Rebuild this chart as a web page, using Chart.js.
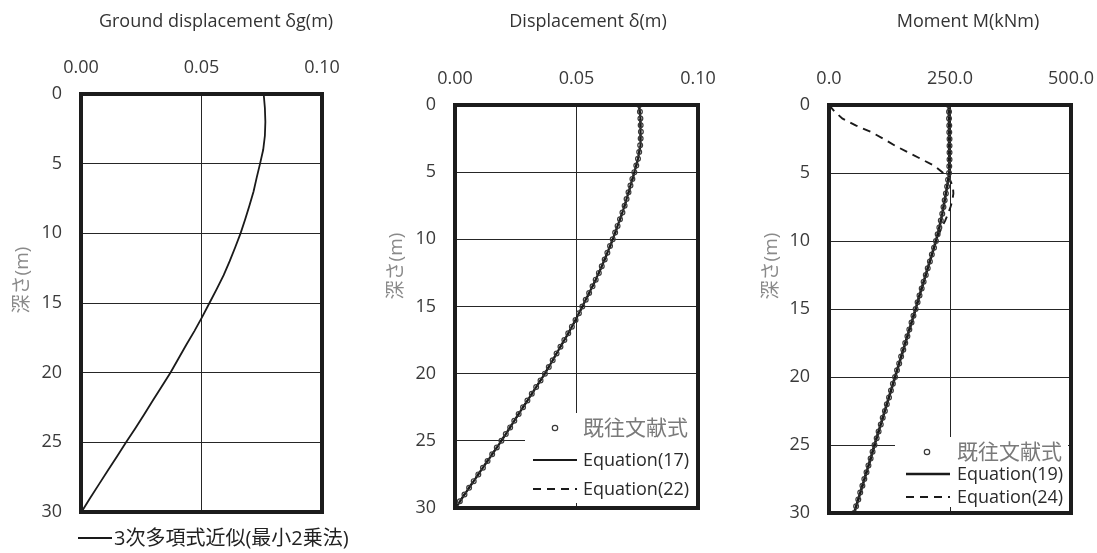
<!DOCTYPE html>
<html>
<head>
<meta charset="utf-8">
<script src="https://cdn.jsdelivr.net/npm/chart.js@4.4.0/dist/chart.umd.min.js"></script>
<style>
  html, body { margin: 0; padding: 0; background: #fff; }
  #wrap { position: relative; width: 1097px; height: 553px; overflow: hidden; }
  canvas { position: absolute; top: 0; }
</style>
</head>
<body>
<div id="wrap">
  <canvas id="c1" width="370" height="553" style="left:0px"></canvas>
  <canvas id="c2" width="360" height="553" style="left:370px"></canvas>
  <canvas id="c3" width="367" height="553" style="left:730px"></canvas>
</div>
<script>
// depth (m) at 1 m and at 0.5 m steps
const depthM = [0,1,2,3,4,5,6,7,8,9,10,11,12,13,14,15,16,17,18,19,20,21,22,23,24,25,26,27,28,29,30];
const depthFine = [0,0.5,1,1.5,2,2.5,3,3.5,4,4.5,5,5.5,6,6.5,7,7.5,8,8.5,9,9.5,10,10.5,11,11.5,12,12.5,13,13.5,14,14.5,
  15,15.5,16,16.5,17,17.5,18,18.5,19,19.5,20,20.5,21,21.5,22,22.5,23,23.5,24,24.5,25,25.5,26,26.5,27,27.5,28,28.5,29,29.5,30];

// panel 1 : ground displacement, 3rd order polynomial fit
const groundDisp = [0.0758,0.0763,0.0765,0.0763,0.0756,0.0743,0.0729,0.0716,0.0699,0.0681,0.0662,0.0640,0.0617,0.0592,0.0563,
  0.0533,0.0503,0.0471,0.0437,0.0404,0.0371,0.0335,0.0298,0.0262,0.0225,0.0187,0.0150,0.0112,0.0075,0.0038,0.0002];

// panel 2 : pile displacement
const dispRef = [0.0758,0.0761,0.0763,0.0764,0.0765,0.0764,0.0762,0.0758,0.0753,0.0746,
  0.0738,0.0730,0.0722,0.0714,0.0706,0.0698,0.0689,0.0679,0.0669,0.0659,
  0.0649,0.0638,0.0627,0.0616,0.0604,0.0592,0.0579,0.0566,0.0552,0.0538,
  0.0524,0.0510,0.0496,0.0481,0.0466,0.0450,0.0434,0.0418,0.0402,0.0386,
  0.0370,0.0352,0.0334,0.0316,0.0298,0.0280,0.0262,0.0244,0.0227,0.0209,
  0.0191,0.0172,0.0153,0.0134,0.0115,0.0096,0.0077,0.0058,0.0039,0.0020,0.0003];
const dispEq17 = [0.0758,0.0763,0.0765,0.0762,0.0753,0.0738,0.0722,0.0706,0.0689,0.0669,0.0649,0.0627,0.0604,0.0579,0.0552,
  0.0524,0.0496,0.0466,0.0434,0.0402,0.0370,0.0334,0.0298,0.0262,0.0227,0.0191,0.0153,0.0115,0.0077,0.0039,0.0003];
const dispEq22 = [0.0757,0.0762,0.0764,0.0762,0.0754,0.0739,0.0723,0.0707,0.0690,0.0670,0.0650,0.0628,0.0605,0.0580,0.0553,
  0.0525,0.0496,0.0466,0.0434,0.0402,0.0369,0.0334,0.0298,0.0262,0.0226,0.0190,0.0152,0.0114,0.0076,0.0038,0.0002];

// panel 3 : bending moment
const momentRef = [247,248,248,248.5,248.5,249,249,249,249,248.5,
  248,246,244,241.5,239,236.5,234,231,228,224.5,
  221,217,212.5,208.5,204,200,195.5,191.5,187,183,
  179,174.5,170.5,166,162,157.5,153.5,149,145,140.5,
  136.5,132,128,124,119.5,115.5,111,107,102.5,98.5,
  94,90,86,81.5,77.5,73,69,64.5,60.5,56,52];
const momentEq19 = [247,248,248.5,249,249,248,244,239,234,228,221,212.5,204,195.5,187,179,170.5,162,153.5,145,
  136.5,128,119.5,111,102.5,94,86,77.5,69,60.5,52];
const momentEq24 = [0,12,28,55,88,113,137,164,192,219,236,250,256,257,255,251,246,240,233,227,221,
  217,212.5,208.5,204,200,195.5,191.5,187,183,179,174.5,170.5,166,162,157.5,153.5,149,145,140.5,136.5,
  132,128,124,119.5,115.5,111,107,102.5,98.5,94,90,86,81.5,77.5,73,69,64.5,60.5,56,52];

// ticks and texts
const depthTicks = [0,5,10,15,20,25,30];
const dispTicks = [0,0.05,0.10];
const momentTicks = [0,250,500];
const titles = ['Ground displacement δg(m)', 'Displacement δ(m)', 'Moment M(kNm)'];
const depthTitle = '深さ(m)';
const legend1 = ['3次多項式近似(最小2乗法)'];
const legend2 = ['既往文献式', 'Equation(17)', 'Equation(22)'];
const legend3 = ['既往文献式', 'Equation(19)', 'Equation(24)'];

const FONT = "'Open Sans', 'Noto Sans CJK JP', sans-serif";
Chart.defaults.font.family = FONT;
Chart.defaults.color = '#3a3a3a';

function pts(xs, ys) {
  return xs.map((v, i) => ({x: v, y: ys[i]}));
}

// frame, titles and legend drawn on top of the chart
const panelDeco = {
  id: 'panelDeco',
  afterDatasetsDraw(chart, args, o) {
    const ctx = chart.ctx;
    ctx.save();
    if (o.box) {
      ctx.fillStyle = '#fff';
      ctx.fillRect(o.box[0], o.box[1], o.box[2], o.box[3]);
    }
    chart.data.datasets.forEach((ds, i) => {
      const row = o.rows[i];
      if (!row) return;
      ctx.setLineDash([]);
      ctx.strokeStyle = ds.borderColor;
      ctx.lineWidth = ds.borderWidth;
      if (ds.showLine === false) {
        ctx.beginPath();
        ctx.arc(o.markX, row.y, ds.pointRadius + 0.3, 0, Math.PI * 2);
        ctx.stroke();
      } else {
        ctx.setLineDash(ds.borderDash || []);
        ctx.beginPath();
        ctx.moveTo(o.lineX[0], row.y);
        ctx.lineTo(o.lineX[1], row.y);
        ctx.stroke();
      }
      ctx.setLineDash([]);
      ctx.fillStyle = row.color;
      ctx.font = row.size + 'px ' + FONT;
      ctx.textAlign = 'left';
      ctx.textBaseline = 'middle';
      ctx.fillText(ds.label, o.textX, row.y + 1);
    });
    ctx.restore();
  },
  afterDraw(chart, args, o) {
    const ctx = chart.ctx, a = chart.chartArea;
    ctx.save();
    ctx.lineWidth = 4;
    ctx.strokeStyle = '#1c1c1c';
    ctx.strokeRect(a.left, a.top, a.right - a.left, a.bottom - a.top);
    ctx.fillStyle = '#333';
    ctx.font = '18px ' + FONT;
    ctx.textAlign = 'center';
    ctx.textBaseline = 'middle';
    ctx.fillText(o.title, o.titleX, 22);
    ctx.translate(o.yTitle[0], o.yTitle[1]);
    ctx.rotate(-Math.PI / 2);
    ctx.fillStyle = '#8a8a8a';
    ctx.font = '19px ' + FONT;
    ctx.fillText(depthTitle, 0, 0);
    ctx.restore();
  }
};

function makePanel(id, cfg) {
  return new Chart(document.getElementById(id), {
    type: 'scatter',
    data: {datasets: cfg.datasets},
    plugins: [panelDeco],
    options: {
      responsive: false,
      animation: false,
      layout: {padding: cfg.pad},
      plugins: {legend: {display: false}, tooltip: {enabled: false}, panelDeco: cfg.deco},
      scales: {
        x: {
          type: 'linear', position: 'top', min: cfg.xMin, max: cfg.xMax,
          afterBuildTicks: s => { s.ticks = cfg.xTicks.map(v => ({value: v})); },
          afterFit: s => { s.height = cfg.top; s.paddingLeft = 0; s.paddingRight = 0; },
          ticks: {padding: 15, font: {size: 18}, color: '#3a3a3a', callback: v => v.toFixed(cfg.dec)},
          grid: {color: '#262626', lineWidth: 1, drawTicks: false},
          border: {display: false}
        },
        y: {
          type: 'linear', reverse: true, min: 0, max: 30,
          afterBuildTicks: s => { s.ticks = depthTicks.map(v => ({value: v})); },
          afterFit: s => { s.width = cfg.left; s.paddingTop = 0; s.paddingBottom = 0; },
          ticks: {padding: 19, font: {size: 18}, color: '#3a3a3a'},
          grid: {color: '#262626', lineWidth: 1, drawTicks: false},
          border: {display: false}
        }
      }
    }
  });
}

const circle = {showLine: false, pointRadius: 2.4, borderWidth: 1.2, borderColor: '#3a3a3a',
  backgroundColor: 'rgba(255,255,255,0)', pointStyle: 'circle'};

makePanel('c1', {
  top: 94, left: 81, pad: {left: 0, top: 0, right: 48, bottom: 41},
  xMin: 0, xMax: 0.1, xTicks: dispTicks, dec: 2,
  datasets: [
    {label: legend1[0], data: pts(groundDisp, depthM), showLine: true, pointRadius: 0,
      borderColor: '#1a1a1a', borderWidth: 1.8}
  ],
  deco: {title: titles[0], titleX: 216, yTitle: [23, 280],
    rows: [{y: 538, color: '#222', size: 20}], lineX: [78, 112], textX: 114}
});

makePanel('c2', {
  top: 105, left: 85, pad: {left: 0, top: 0, right: 32, bottom: 45},
  xMin: 0, xMax: 0.1, xTicks: dispTicks, dec: 2,
  datasets: [
    Object.assign({label: legend2[0], data: pts(dispRef, depthFine)}, circle),
    {label: legend2[1], data: pts(dispEq17, depthM), showLine: true, pointRadius: 0,
      borderColor: '#1a1a1a', borderWidth: 2.2},
    {label: legend2[2], data: pts(dispEq22, depthM), showLine: true, pointRadius: 0,
      borderColor: '#1a1a1a', borderWidth: 1.9, borderDash: [8, 6]}
  ],
  deco: {title: titles[1], titleX: 218, yTitle: [27, 266],
    box: [155, 413, 173, 90],
    rows: [{y: 428, color: '#7a7a7a', size: 21}, {y: 460, color: '#2a2a2a', size: 18}, {y: 489, color: '#2a2a2a', size: 18}],
    markX: 185, lineX: [163, 207], textX: 213}
});

makePanel('c3', {
  top: 105, left: 99, pad: {left: 0, top: 0, right: 26, bottom: 40},
  xMin: 0, xMax: 500, xTicks: momentTicks, dec: 1,
  datasets: [
    Object.assign({label: legend3[0], data: pts(momentRef, depthFine)}, circle),
    {label: legend3[1], data: pts(momentEq19, depthM), showLine: true, pointRadius: 0,
      borderColor: '#1a1a1a', borderWidth: 2.6},
    {label: legend3[2], data: pts(momentEq24, depthFine), showLine: true, pointRadius: 0,
      borderColor: '#1a1a1a', borderWidth: 1.9, borderDash: [8, 6]}
  ],
  deco: {title: titles[2], titleX: 238, yTitle: [42, 266],
    box: [165, 437, 173, 70],
    rows: [{y: 452, color: '#7a7a7a', size: 21}, {y: 474, color: '#2a2a2a', size: 18}, {y: 497, color: '#2a2a2a', size: 18}],
    markX: 197, lineX: [176, 220], textX: 227}
});
</script>
</body>
</html>
